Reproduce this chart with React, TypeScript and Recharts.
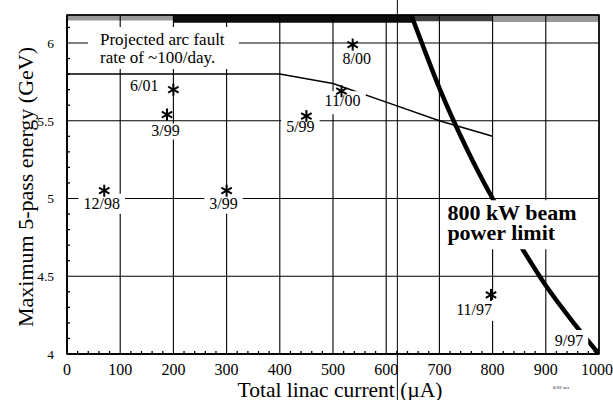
import React from 'react';
import {
  ComposedChart, Line, Scatter, XAxis, YAxis, CartesianGrid,
  ReferenceArea, ReferenceLine, Label,
} from 'recharts';

const FONT = "'Liberation Serif', 'Times New Roman', Times, serif";

// ---- axes ----
const xTicks = [0, 100, 200, 300, 400, 500, 600, 700, 800, 900, 1000];
const yTicks = [4, 4.5, 5, 5.5, 6];
const xMinorTicks = Array.from({ length: 49 }, (_, i) => (i + 1) * 20).filter((v) => v % 100 !== 0);
const yMinorTicks = Array.from({ length: 21 }, (_, i) => Math.round((4.1 + i * 0.1) * 10) / 10).filter((v) => Math.round(v * 10) % 5 !== 0);
const xDomain: [number, number] = [0, 1000];
const yDomain: [number, number] = [4, 6.18];

// ---- measured points ----
const measuredCurrent = [70, 300, 200, 188, 450, 537, 516, 797, 1000];
const measuredEnergy = [5.05, 5.05, 5.70, 5.54, 5.53, 5.99, 5.69, 4.38, 4.00];
const measuredDates = ['12/98', '3/99', '6/01', '3/99', '5/99', '8/00', '11/00', '11/97', '9/97'];

// ---- projected arc fault limit (thin line) ----
const arcCurrent = [0, 400, 500, 600, 700, 800];
const arcEnergy = [5.80, 5.80, 5.74, 5.62, 5.50, 5.40];

// ---- 800 kW beam power limit (thick line) ----
const powerCurrent = [647, 667, 700, 750, 800, 850, 900, 950, 1000];
const powerEnergy = [6.18, 6.00, 5.71, 5.33, 5.00, 4.71, 4.44, 4.21, 4.00];

// ---- scanned noise band along the top ----
const bandStart = [0, 200, 650, 800];
const bandEnd = [200, 650, 800, 1000];
const bandFloor = [6.145, 6.13, 6.14, 6.135];

const artifactCurrent = 621;

// ---- annotations ----
const noteTexts = [['Projected arc fault', 'rate of ~100/day.'], ['800 kW beam', 'power limit']];
const noteCurrent = [62, 715];
const noteEnergy = [6.0, 4.86];

// ---- styles (kept separate from data) ----
const bandOpacity = [0.4, 0.95, 0.75, 0.4];
const labelDx = [-2.5, -3, -15, -1.5, -6, 4, 1, 1, -30];
const labelDy = [18, 18, 1, 21, 16, 19, 15, 20, -8];
const labelAnchor = ['middle', 'middle', 'end', 'middle', 'middle', 'middle', 'middle', 'end', 'middle'];
const labelPadTop = [15, 15, 13, 12, 15, 13, 15, 15, 16];
const labelPadBottom = [5, 5, 4, 4, 4, 4, 8, 6, 3];
const noteStyle = [
  { size: 17, weight: 'normal', gap: 18, dy: 2, box: [-12, -16, 139, 26] },
  { size: 22, weight: 'bold', gap: 20, dy: 0, box: [-6, -20, 147, 29] },
];

const measuredData = measuredCurrent.map((x, i) => ({ x, y: measuredEnergy[i], i }));
const arcData = arcCurrent.map((x, i) => ({ x, y: arcEnergy[i] }));
const powerData = powerCurrent.map((x, i) => ({ x, y: powerEnergy[i] }));
const noteData = noteCurrent.map((x, i) => ({ x, y: noteEnergy[i], i }));
const xMinorData = xMinorTicks.map((x) => ({ x, y: yDomain[0] }));
const yMinorData = yMinorTicks.map((y) => ({ x: xDomain[0], y }));

const charWidth = (c: string) => (c === '/' ? 0.278 : c === '.' || c === ' ' ? 0.25 : 0.5);
const textWidth = (s: string, size: number) => s.split('').reduce((a, c) => a + charWidth(c), 0) * size;

const Asterisk = (props: any) => {
  const { cx, cy } = props;
  if (cx == null || cy == null) return null;
  const r = 6;
  return (
    <g stroke="#000" strokeWidth={2}>
      <line x1={cx} y1={cy - r} x2={cx} y2={cy + r} />
      <line x1={cx - r * 0.87} y1={cy - r * 0.5} x2={cx + r * 0.87} y2={cy + r * 0.5} />
      <line x1={cx - r * 0.87} y1={cy + r * 0.5} x2={cx + r * 0.87} y2={cy - r * 0.5} />
    </g>
  );
};

const XMinorTick = (props: any) => {
  const { cx, cy } = props;
  if (cx == null || cy == null) return null;
  return <line x1={cx} y1={cy} x2={cx} y2={cy - 3} stroke="#000" strokeWidth={1.3} />;
};

const YMinorTick = (props: any) => {
  const { cx, cy } = props;
  if (cx == null || cy == null) return null;
  return <line x1={cx} y1={cy} x2={cx + 3} y2={cy} stroke="#000" strokeWidth={1.3} />;
};

const DateLabel = (props: any) => {
  const { cx, cy, payload } = props;
  if (cx == null || cy == null || !payload) return null;
  const i = payload.i;
  const size = 16;
  const txt = measuredDates[i];
  const w = textWidth(txt, size);
  const ax = cx + labelDx[i];
  const by = cy + labelDy[i];
  const anchor = labelAnchor[i];
  const left = anchor === 'end' ? ax - w : anchor === 'middle' ? ax - w / 2 : ax;
  return (
    <g>
      <rect x={left - 5} y={by - labelPadTop[i]} width={w + 10} height={labelPadTop[i] + labelPadBottom[i]} fill="#fff" />
      <text x={ax} y={by} textAnchor={anchor} fontFamily={FONT} fontSize={size} fill="#000">{txt}</text>
    </g>
  );
};

const NoteLabel = (props: any) => {
  const { cx, cy, payload } = props;
  if (cx == null || cy == null || !payload) return null;
  const i = payload.i;
  const st = noteStyle[i];
  const [l, t, r, b] = st.box;
  return (
    <g>
      <rect x={cx + l} y={cy + t} width={r - l} height={b - t} fill="#fff" />
      {noteTexts[i].map((line, k) => (
        <text key={k} x={cx} y={cy + st.dy + k * st.gap} fontFamily={FONT} fontSize={st.size}
          fontWeight={st.weight} fill="#000">{line}</text>
      ))}
    </g>
  );
};

const XTitle = (props: any) => {
  const vb = props.viewBox || { x: 67, y: 354, width: 532, height: 46 };
  return (
    <g>
      <text x={vb.x + vb.width / 2 + 7} y={vb.y + vb.height - 3} textAnchor="middle"
        fontFamily={FONT} fontSize={21.5} fill="#000">Total linac current (µA)</text>
      <text x={vb.x + vb.width - 46} y={vb.y + 35} fontFamily={FONT} fontSize={5} fill="#000">6/01 cer</text>
    </g>
  );
};

const YTitle = (props: any) => {
  const vb = props.viewBox || { x: 0, y: 15, width: 67, height: 339 };
  const cx = vb.x + 33;
  const cy = vb.y + vb.height / 2 + 2.5;
  return (
    <text transform={`translate(${cx},${cy}) rotate(-90)`} textAnchor="middle"
      fontFamily={FONT} fontSize={22} fill="#000">Maximum 5-pass energy (GeV)</text>
  );
};

const tickStyle = { fill: '#000', fontFamily: FONT };

export default function App() {
  return (
    <div style={{ position: 'absolute', left: 0, top: 0, width: 613, height: 400, background: '#fff' }}>
      <ComposedChart width={613} height={400} margin={{ top: 15, right: 14, bottom: 0, left: 0 }}
        style={{ fontFamily: FONT }}>
        <CartesianGrid stroke="#000" strokeWidth={1.1} />
        <XAxis type="number" dataKey="x" domain={xDomain} ticks={xTicks} allowDataOverflow
          height={46} tickLine={false} tickSize={6} tickMargin={4}
          axisLine={{ stroke: '#000', strokeWidth: 1.5 }}
          tick={{ ...tickStyle, fontSize: 16 }}
          label={<Label content={(p: any) => <XTitle {...p} />} />} />
        <YAxis type="number" dataKey="y" domain={yDomain} ticks={yTicks} allowDataOverflow
          width={67} tickLine={false} tickSize={6} tickMargin={7}
          axisLine={{ stroke: '#000', strokeWidth: 1.5 }}
          tick={{ ...tickStyle, fontSize: 13.5 }}
          label={<Label content={(p: any) => <YTitle {...p} />} />} />

        {bandStart.map((x1, k) => (
          <ReferenceArea key={k} x1={x1} x2={bandEnd[k]} y1={bandFloor[k]} y2={yDomain[1]}
            fill="#000" fillOpacity={bandOpacity[k]} stroke="none" ifOverflow="visible" />
        ))}
        <ReferenceArea x1={xDomain[0]} x2={xDomain[1]} y1={yDomain[0]} y2={yDomain[1]}
          fill="none" stroke="#000" strokeWidth={1.5} ifOverflow="visible" />
        <ReferenceLine segment={[{ x: artifactCurrent, y: 3.5 }, { x: artifactCurrent, y: 6.35 }]}
          stroke="#000" strokeWidth={1} ifOverflow="visible" />

        <Line data={arcData} dataKey="y" type="linear" stroke="#000" strokeWidth={1.5}
          dot={false} isAnimationActive={false} />
        <Line data={powerData} dataKey="y" type="monotone" stroke="#000" strokeWidth={4.5}
          dot={false} isAnimationActive={false} />

        <Scatter data={xMinorData} dataKey="y" shape={(p: any) => <XMinorTick {...p} />} isAnimationActive={false} />
        <Scatter data={yMinorData} dataKey="y" shape={(p: any) => <YMinorTick {...p} />} isAnimationActive={false} />
        <Scatter data={noteData} dataKey="y" shape={(p: any) => <NoteLabel {...p} />} isAnimationActive={false} />
        <Scatter data={measuredData} dataKey="y" shape={(p: any) => <DateLabel {...p} />} isAnimationActive={false} />
        <Scatter data={measuredData} dataKey="y" shape={(p: any) => <Asterisk {...p} />} isAnimationActive={false} />
      </ComposedChart>
    </div>
  );
}
